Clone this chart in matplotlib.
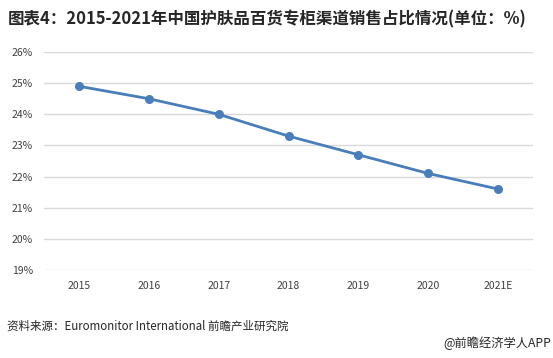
import matplotlib
matplotlib.use("Agg")
import matplotlib.pyplot as plt

plt.rcParams['font.family'] = ['Noto Sans CJK SC', 'DejaVu Sans']

years = ["2015", "2016", "2017", "2018", "2019", "2020", "2021E"]
share = [24.9, 24.5, 24.0, 23.3, 22.7, 22.1, 21.6]
yticks = [19, 20, 21, 22, 23, 24, 25, 26]
ytick_labels = ["19%", "20%", "21%", "22%", "23%", "24%", "25%", "26%"]

title = "图表4：2015-2021年中国护肤品百货专柜渠道销售占比情况(单位：%)"
source = "资料来源：Euromonitor International 前瞻产业研究院"
credit = "@前瞻经济学人APP"

W, H = 553, 358
fig = plt.figure(figsize=(W / 100, H / 100), dpi=100)
ax = fig.add_axes([44 / W, 1 - 270 / H, (533 - 44) / W, (270 - 52) / H])

x = list(range(len(years)))
ax.plot(x, share, color="#4a7ebb", linewidth=2, marker="o", markersize=5.5,
        markerfacecolor="#4a7ebb", markeredgecolor="#4a7ebb", zorder=3)

ax.set_xlim(-0.5, len(years) - 0.5)
ax.set_ylim(19, 26)
ax.set_yticks(yticks)
ax.set_yticklabels(ytick_labels)
ax.set_xticks(x)
ax.set_xticklabels(years)
ax.grid(axis="y", color="#d9d9d9", linewidth=1)
ax.set_axisbelow(True)
for s in ax.spines.values():
    s.set_visible(False)
ax.tick_params(axis="both", length=0, labelsize=7.5, colors="#404040")
ax.tick_params(axis="y", pad=8)
ax.tick_params(axis="x", pad=8)

fig.text(8 / W, 1 - 19 / H, title, fontsize=11.9, fontweight="bold",
         color="#262626", va="center", ha="left")
fig.text(7 / W, 1 - 326 / H, source, fontsize=8.3, color="#262626",
         va="center", ha="left")
fig.text(551 / W, 1 - 343 / H, credit, fontsize=8.8, color="#262626",
         va="center", ha="right")

fig.savefig("out.png", dpi=100)
